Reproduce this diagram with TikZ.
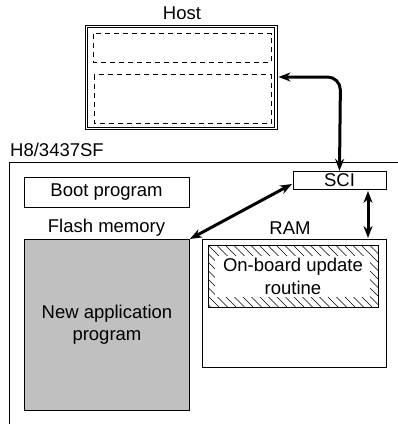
\documentclass[tikz,border=0pt]{standalone}
\usepackage{fontspec}
\setmainfont{Liberation Sans}
\usetikzlibrary{arrows.meta}
\definecolor{flashgray}{RGB}{192,192,192}
\begin{document}
\begin{tikzpicture}[x=1pt,y=-1pt,
  txt/.style={font=\fontsize{18.5}{22.5}\selectfont, inner sep=0pt, align=center},
  thin/.style={line width=0.9pt},
  dashbox/.style={line width=0.8pt, dash pattern=on 5pt off 4pt},
  bigarrow/.style={line width=3pt, {Stealth[length=12pt,width=9pt]}-{Stealth[length=12pt,width=9pt]}},
]
\useasboundingbox (0,0) rectangle (398,424);
% Host
\node[txt] (hostlbl) at (182,13) {Host};
\draw[thin] (85,25) rectangle (277,129.5);
\draw[thin] (87.5,27.5) rectangle (274.5,127);
\draw[dashbox] (93.5,33.5) rectangle (271,62);
\draw[dashbox] (94,74.5) rectangle (271,123);
\coordinate (hostport) at (278.5,77);
% Chip
\node[txt, anchor=west] (chiplbl) at (10,150) {H8/3437SF};
\draw[thin] (9.5,424) -- (9.5,162) -- (398,162);
\node[thin, draw, minimum width=165pt, minimum height=30pt, txt] (boot) at (106.5,192.5) {Boot program};
\node[txt] (flashlbl) at (106.5,228) {Flash memory};
\node[thin, draw, fill=flashgray, minimum width=165pt, minimum height=171pt, anchor=north west, inner sep=0pt] (flash) at (24,239) {};
\node[txt] at (flash.center) {New application\\program};
\node[thin, draw, minimum width=93pt, minimum height=18.5pt, txt] (sci) at (339.5,180.5) {SCI};
\node[txt] (ramlbl) at (290,228) {RAM};
\node[thin, draw, minimum width=184pt, minimum height=128pt, anchor=north west] (ram) at (202,239) {};
% hatched routine
\begin{scope}
  \clip (208,245) rectangle (378,307);
  \foreach \i in {0,...,28} {
    \draw[line width=0.7pt] ({140+\i*8.5},245) -- ({140+\i*8.5+62},307);
  }
\end{scope}
\draw[thin] (208,245) rectangle (378,307);
\fill[white] (215,256) rectangle (370,297);
\node[txt] (routine) at (293,276.5) {On-board update\\routine};
% Arrows
\draw[bigarrow, rounded corners=13pt] (hostport) -- (340.5,77) -- (sci.north);
\draw[bigarrow] (292,184) -- (flash.north east);
\draw[bigarrow] (368,191) -- (368,238);
\end{tikzpicture}
\end{document}
